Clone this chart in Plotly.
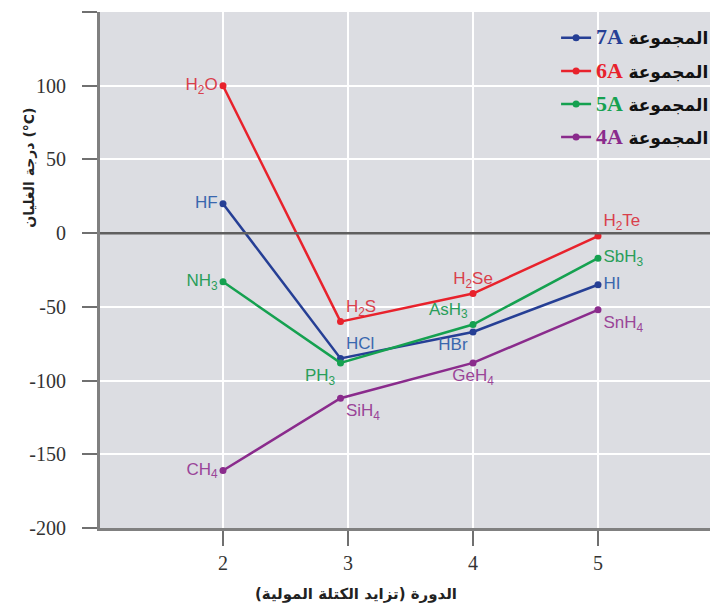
import plotly.graph_objects as go

# الدورة
periods = [2, 2.94, 4, 5]

# درجات الغليان (°C)
group_7a = [20, -85, -67, -35]
group_6a = [100, -60, -41, -2]
group_5a = [-33, -88, -62, -17]
group_4a = [-161, -112, -88, -52]

labels_7a = ["HF", "HCl", "HBr", "HI"]
labels_6a = ["H<sub>2</sub>O", "H<sub>2</sub>S", "H<sub>2</sub>Se", "H<sub>2</sub>Te"]
labels_5a = ["NH<sub>3</sub>", "PH<sub>3</sub>", "AsH<sub>3</sub>", "SbH<sub>3</sub>"]
labels_4a = ["CH<sub>4</sub>", "SiH<sub>4</sub>", "GeH<sub>4</sub>", "SnH<sub>4</sub>"]

group_names = ["7A", "6A", "5A", "4A"]

y_ticks = [150, 100, 50, 0, -50, -100, -150, -200]
y_ticktext = ["150", "100", "50", "0", "-50", "-100", "-150", "-200"]

series = [
    # (values, labels, line colour, label colour, text positions)
    (group_7a, labels_7a, "#263f95", "#3a67ae",
     ["middle left", "top right", "bottom left", "middle right"]),
    (group_6a, labels_6a, "#e8222c", "#d9404c",
     ["middle left", "top right", "top center", "top right"]),
    (group_5a, labels_5a, "#15a150", "#2a9e5a",
     ["middle left", "bottom left", "top left", "middle right"]),
    (group_4a, labels_4a, "#8a2b8c", "#9a4598",
     ["middle left", "bottom right", "bottom center", "bottom right"]),
]

fig = go.Figure()

for name, (vals, labs, col, lcol, pos) in zip(group_names, series):
    legend_txt = (
        f"<span style='font-family:Liberation Serif;font-size:22px;color:{col}'><b>{name}</b></span>"
        " <b>المجموعة</b>"
    )
    fig.add_trace(go.Scatter(
        x=periods,
        y=vals,
        mode="lines+markers+text",
        name=legend_txt,
        legendgroup=name,
        text=labs,
        textposition=pos,
        textfont=dict(family="Liberation Sans", size=17, color=lcol),
        line=dict(color=col, width=2.5),
        marker=dict(color=col, size=7),
        cliponaxis=False,
    ))

fig.add_hline(y=0, line=dict(color="#5f5f5f", width=2.5))

# the page body has an 8px margin, so the figure is 8px smaller than the window
fig.update_layout(
    width=710,
    height=605,
    margin=dict(l=92, r=0, t=4, b=85),
    paper_bgcolor="white",
    plot_bgcolor="#dcdde2",
    font=dict(family="DejaVu Sans", color="#222"),
    legend=dict(
        x=0.738, xanchor="left", y=0.984, yanchor="top",
        bgcolor="rgba(0,0,0,0)",
        font=dict(family="DejaVu Sans", size=17, color="#111"),
        tracegroupgap=8,
    ),
    xaxis=dict(
        range=[1.016, 5.96],
        tickvals=[2, 3, 4, 5],
        ticks="outside", ticklen=15, tickcolor="#707070", tickwidth=2,
        showline=True, linecolor="#808080", linewidth=3,
        gridcolor="white", gridwidth=2,
        zeroline=False,
        automargin=False,
        tickfont=dict(family="Liberation Serif", size=20, color="#333"),
    ),
    yaxis=dict(
        range=[-200, 150],
        tickvals=y_ticks,
        ticktext=y_ticktext,
        ticks="outside", ticklen=15, tickcolor="#707070", tickwidth=2,
        showline=True, linecolor="#808080", linewidth=3,
        gridcolor="white", gridwidth=2,
        zeroline=False,
        automargin=False,
        ticklabelstandoff=12,
        tickfont=dict(family="Liberation Serif", size=20, color="#333"),
    ),
    annotations=[
        dict(
            text="<b>درجة الغليان (°C)</b>",
            textangle=-90,
            xref="paper", yref="paper",
            x=-0.115, y=0.698,
            xanchor="center", yanchor="middle",
            showarrow=False,
            font=dict(family="DejaVu Sans", size=14, color="#222"),
        ),
        dict(
            text="<b>الدورة (تزايد الكتلة المولية)\u200f</b>",
            xref="paper", yref="paper",
            x=0.414, y=-0.127,
            xanchor="center", yanchor="middle",
            showarrow=False,
            font=dict(family="DejaVu Sans", size=15, color="#222"),
        ),
    ],
)

fig.write_html("out.html")
